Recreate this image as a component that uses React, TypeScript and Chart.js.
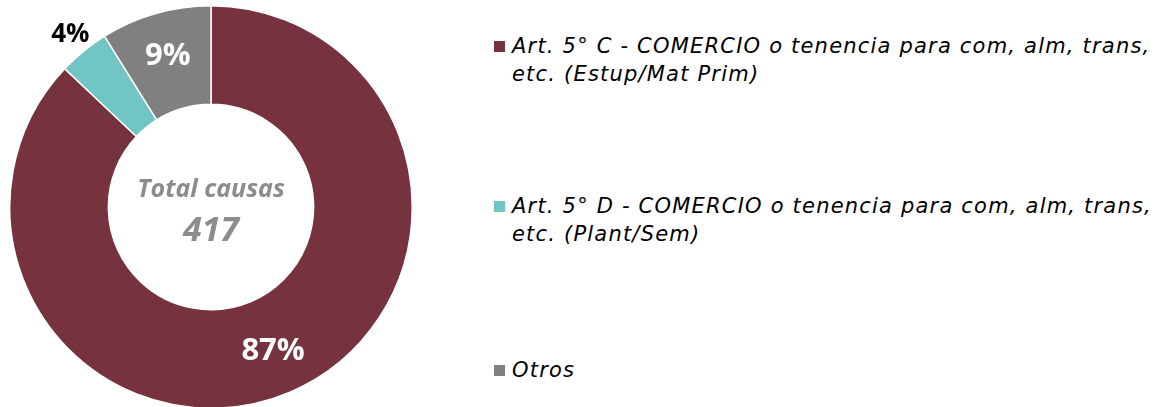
import React, { useEffect, useRef } from "react";
import { Chart, registerables } from "chart.js";

Chart.register(...registerables);

const categories = [
  "Art. 5° C - COMERCIO o tenencia para com, alm, trans, etc. (Estup/Mat Prim)",
  "Art. 5° D - COMERCIO o tenencia para com, alm, trans, etc. (Plant/Sem)",
  "Otros",
];
const legendLines = [
  ["Art. 5° C - COMERCIO o tenencia para com, alm, trans,", "etc. (Estup/Mat Prim)"],
  ["Art. 5° D - COMERCIO o tenencia para com, alm, trans,", "etc. (Plant/Sem)"],
  ["Otros"],
];
const causeCounts = [363, 17, 37];
const percentLabels = ["87%", "4%", "9%"];
const sliceColors = ["#76333F", "#72C5C5", "#808080"];
const centerTitle = "Total causas";
const centerValue = "417";

const labelPlugin = {
  id: "sliceLabels",
  afterDatasetsDraw(chart: any) {
    const ctx = chart.ctx;
    const meta = chart.getDatasetMeta(0);
    const total = causeCounts.reduce((a, b) => a + b, 0);
    meta.data.forEach((arc: any, i: number) => {
      const p = arc.getProps(["x", "y", "startAngle", "endAngle", "innerRadius", "outerRadius"], true);
      const mid = (p.startAngle + p.endAngle) / 2;
      const share = causeCounts[i] / total;
      let r: number;
      let color: string;
      let size: number;
      if (share < 0.05) {
        r = p.outerRadius + 21;
        color = "#000000";
        size = 26;
      } else {
        r = p.innerRadius + 0.55 * (p.outerRadius - p.innerRadius);
        color = "#FFFFFF";
        size = 31;
      }
      ctx.save();
      ctx.font = `bold ${size}px "Open Sans", Lato, sans-serif`;
      ctx.fillStyle = color;
      ctx.textAlign = "center";
      ctx.textBaseline = "middle";
      ctx.fillText(percentLabels[i], p.x + Math.cos(mid) * r, p.y + Math.sin(mid) * r);
      ctx.restore();
    });
    const a0: any = meta.data[0];
    const cx = a0.x;
    const cy = a0.y;
    ctx.save();
    ctx.fillStyle = "#8C8C8C";
    ctx.textAlign = "center";
    ctx.textBaseline = "middle";
    ctx.font = `italic bold 25px "Open Sans", Lato, sans-serif`;
    ctx.fillText(centerTitle, cx, cy - 17);
    ctx.font = `italic bold 34px "Open Sans", Lato, sans-serif`;
    ctx.fillText(centerValue, cx, cy + 24);
    ctx.restore();
  },
};

function DoughnutChart() {
  const ref = useRef<HTMLCanvasElement | null>(null);
  useEffect(() => {
    if (!ref.current) return;
    const chart = new Chart(ref.current, {
      type: "doughnut",
      data: {
        labels: categories,
        datasets: [
          {
            data: causeCounts,
            backgroundColor: sliceColors,
            borderColor: "#FFFFFF",
            borderWidth: 1.5,
          },
        ],
      },
      options: {
        animation: false,
        responsive: true,
        maintainAspectRatio: false,
        cutout: "51%",
        rotation: 0,
        layout: { padding: 0 },
        plugins: {
          legend: { display: false },
          tooltip: { enabled: false },
        },
      },
      plugins: [labelPlugin],
    });
    return () => chart.destroy();
  }, []);
  return <canvas ref={ref} />;
}

export default function App() {
  const legendTops = [32, 192, 356];
  return (
    <div style={{ position: "absolute", left: 0, top: 0, width: 1167, height: 407, background: "#FFFFFF", overflow: "hidden" }}>
      <div style={{ position: "absolute", left: 9, top: 5, width: 404, height: 404 }}>
        <DoughnutChart />
      </div>
      {legendLines.map((lines, i) => (
        <div key={i} style={{ position: "absolute", left: 494, top: legendTops[i], fontFamily: '"DejaVu Sans", sans-serif', fontStyle: "italic", fontSize: 21, letterSpacing: "1.2px", lineHeight: "28px", color: "#000000" }}>
          <span style={{ position: "absolute", left: 0, top: 9, width: 11, height: 11, background: sliceColors[i] }} />
          <div style={{ marginLeft: 18, whiteSpace: "nowrap" }}>
            {lines.map((l, j) => (
              <div key={j}>{l}</div>
            ))}
          </div>
        </div>
      ))}
    </div>
  );
}
